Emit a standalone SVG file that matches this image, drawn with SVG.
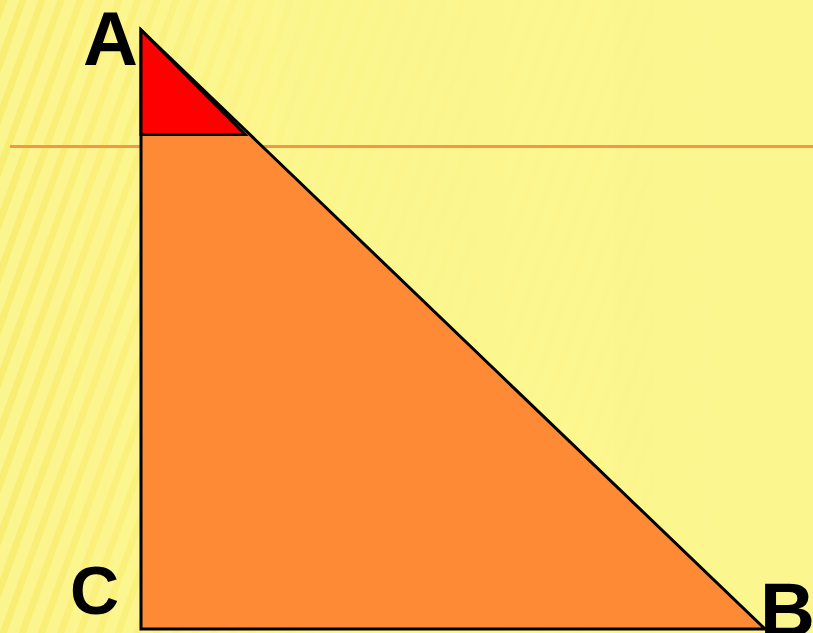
<svg xmlns="http://www.w3.org/2000/svg" width="813" height="633" viewBox="0 0 813 633">
<defs>
<pattern id="stripes" width="18" height="18" patternUnits="userSpaceOnUse" patternTransform="rotate(20)">
<rect width="18" height="18" fill="#FCF58F"/>
<rect width="7" height="18" fill="#F8EC6C"/>
</pattern>
<linearGradient id="fade" x1="0" y1="0" x2="1" y2="0">
<stop offset="0" stop-color="#fff" stop-opacity="0.2"/>
<stop offset="0.35" stop-color="#fff" stop-opacity="0.85"/>
<stop offset="1" stop-color="#fff" stop-opacity="1"/>
</linearGradient>
<mask id="m"><rect width="813" height="633" fill="url(#fade)"/></mask>
</defs>
<style>
.lbl{font-family:"Liberation Sans",Arial,sans-serif;font-weight:bold;fill:#000}
.edge{stroke:#000;stroke-width:3;stroke-linejoin:miter}
</style>
<rect width="813" height="633" fill="url(#stripes)"/>
<rect width="813" height="633" fill="#FCF68F" mask="url(#m)"/>
<g id="line">
<line x1="10" y1="146.5" x2="813" y2="146.5" stroke="#F79646" stroke-width="3"/>
</g>
<g id="big-triangle">
<polygon class="edge" points="141,30 141,629 765,629" fill="#FF8A36"/>
</g>
<g id="small-triangle">
<polygon class="edge" points="141,30 141,134.5 245,134.5" fill="#FF0000"/>
</g>
<g id="labels">
<text class="lbl" x="83" y="65" font-size="76">A</text>
<text class="lbl" x="70" y="614" font-size="68">C</text>
<text class="lbl" x="760" y="636" font-size="76">B</text>
</g>
</svg>
